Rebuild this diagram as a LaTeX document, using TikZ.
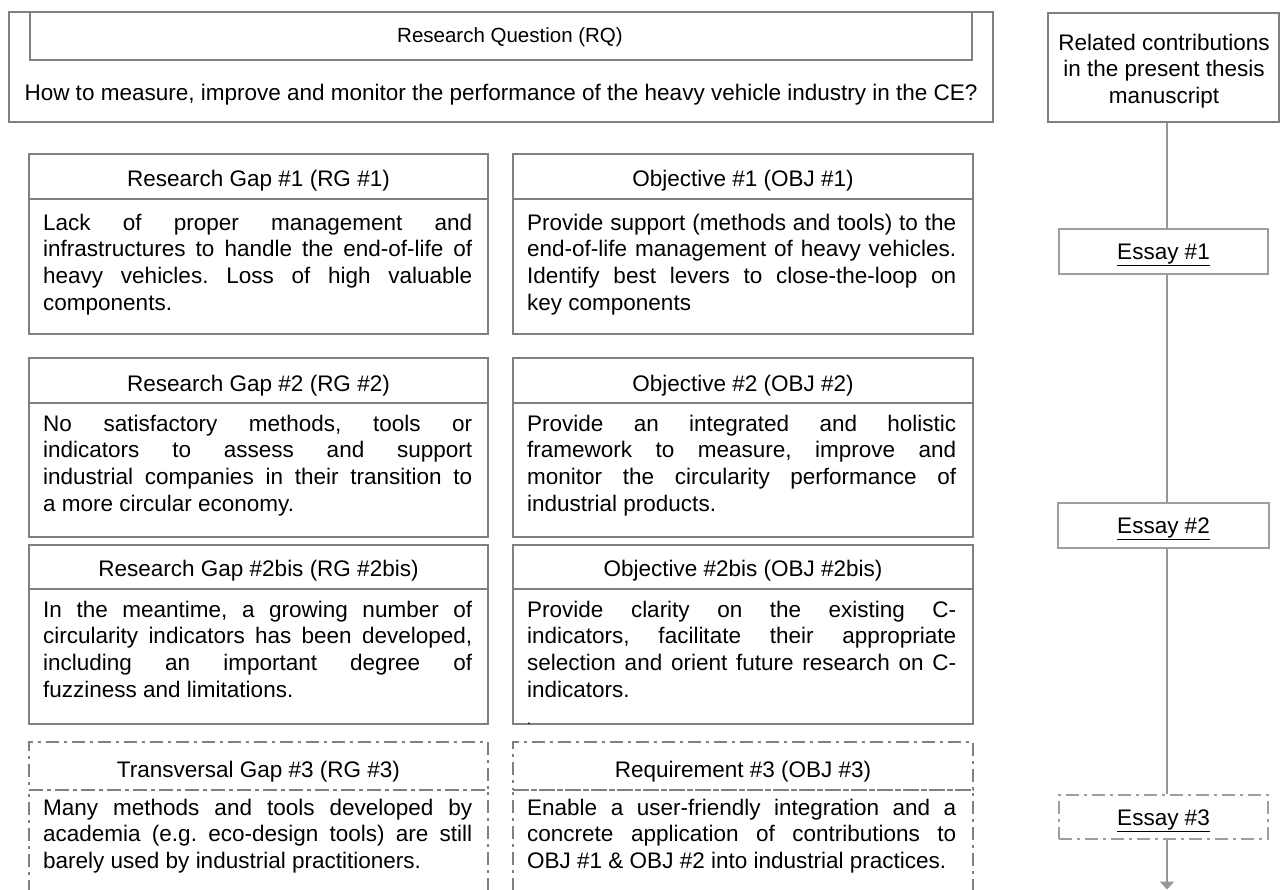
\documentclass[tikz,border=0pt]{standalone}
\usepackage{fontspec}
\setmainfont{Liberation Sans}
\usetikzlibrary{arrows.meta}
\definecolor{boxgray}{RGB}{128,128,128}
\definecolor{essgray}{RGB}{158,158,158}
\definecolor{linegray}{RGB}{150,150,150}
\frenchspacing
\begin{document}
\begin{tikzpicture}[x=1pt,y=-1pt,
  every node/.style={font=\fontsize{22.5}{26.6}\selectfont, text=black, inner sep=0pt},
  frame/.style={draw=boxgray, line width=2pt},
  dashframe/.style={draw=boxgray, line width=1.8pt, dash pattern=on 13pt off 5pt on 3pt off 5pt},
  essbox/.style={draw=essgray, line width=1.6pt, text height=21pt, text depth=5pt},
  essdash/.style={essbox, dash pattern=on 13pt off 5pt on 3pt off 5pt},
  colL/.style={minimum width=459pt},
  colR/.style={minimum width=460pt},
  ttlA/.style={text height=26pt, text depth=5pt},
  ttlB/.style={text height=24.4pt, text depth=5pt},
  ttlC/.style={text height=28pt, text depth=5pt},
  bodytext/.style={anchor=north west, text width=429pt, align=justify,
    execute at begin node={\frenchspacing\pretolerance=10000\tolerance=10000\hyphenpenalty=10000\exhyphenpenalty=10000}},
  conn/.style={draw=linegray, line width=1.8pt}
]
\useasboundingbox (0,0) rectangle (1281,890);
\clip (0,0) rectangle (1281,890);

% research question
\node[frame, minimum width=984pt, minimum height=110pt] (rqout) at (501,67) {};
\node[frame, minimum width=942pt, minimum height=48pt] (rqttl) at (501,36) {};
\node[anchor=base, font=\fontsize{20.5}{24}\selectfont] (rqttltxt) at (510,43) {Research Question (RQ)};
\node[anchor=base] (rqtxt) at (501,101) {How to measure, improve and monitor the performance of the heavy vehicle industry in the CE?};

% related contributions
\node[frame, minimum width=231pt, minimum height=109pt] (rel) at (1163.5,67.5) {};
\node[anchor=north, align=center] (reltxt) at (1164,33.7) {Related contributions\\in the present thesis\\manuscript};

% row 1
\node[frame, colL, minimum height=135pt] (rg1b) at (258.5,266.5) {};
\node[frame, colL, minimum height=45pt, ttlA] (rg1t) at (258.5,176.5) {Research Gap \#1 (RG \#1)};
\node[bodytext] (rg1x) at (43,213.7) {Lack of proper management and\linebreak infrastructures to handle the end-of-life of\linebreak heavy vehicles. Loss of high valuable\linebreak components.};
\node[frame, colR, minimum height=135pt] (ob1b) at (743,266.5) {};
\node[frame, colR, minimum height=45pt, ttlA] (ob1t) at (743,176.5) {Objective \#1 (OBJ \#1)};
\node[bodytext] (ob1x) at (527,213.7) {Provide support (methods and tools) to the\linebreak end-of-life management of heavy vehicles.\linebreak Identify best levers to close-the-loop on\linebreak key components};

% row 2
\node[frame, colL, minimum height=134pt] (rg2b) at (258.5,470) {};
\node[frame, colL, minimum height=45pt, ttlA] (rg2t) at (258.5,380.5) {Research Gap \#2 (RG \#2)};
\node[bodytext] (rg2x) at (43,414.7) {No satisfactory methods, tools or\linebreak indicators to assess and support\linebreak industrial companies in their transition to\linebreak a more circular economy.};
\node[frame, colR, minimum height=134pt] (ob2b) at (743,470) {};
\node[frame, colR, minimum height=45pt, ttlA] (ob2t) at (743,380.5) {Objective \#2 (OBJ \#2)};
\node[bodytext] (ob2x) at (527,414.7) {Provide an integrated and holistic\linebreak framework to measure, improve and\linebreak monitor the circularity performance of\linebreak industrial products.};

% row 3
\node[frame, colL, minimum height=135pt] (rg3b) at (258.5,656.5) {};
\node[frame, colL, minimum height=44pt, ttlB] (rg3t) at (258.5,567) {Research Gap \#2bis (RG \#2bis)};
\node[bodytext] (rg3x) at (43,600.7) {In the meantime, a growing number of\linebreak circularity indicators has been developed,\linebreak including an important degree of\linebreak fuzziness and limitations.};
\node[frame, colR, minimum height=135pt] (ob3b) at (743,656.5) {};
\node[frame, colR, minimum height=44pt, ttlB] (ob3t) at (743,567) {Objective \#2bis (OBJ \#2bis)};
\node[bodytext] (ob3x) at (527,600.7) {Provide clarity on the existing C-\linebreak indicators, facilitate their appropriate\linebreak selection and orient future research on C-\linebreak indicators.};
\node[font=\fontsize{14}{14}\selectfont] (stray) at (529,724) {.};

% row 4 (dashed)
\node[dashframe, colL, minimum height=110pt] (rg4b) at (258.5,845) {};
\node[dashframe, colL, minimum height=48pt, ttlC] (rg4t) at (258.5,766) {Transversal Gap \#3 (RG \#3)};
\node[bodytext] (rg4x) at (43,798.7) {Many methods and tools developed by\linebreak academia (e.g. eco-design tools) are still\linebreak barely used by industrial practitioners.};
\node[dashframe, colR, minimum height=110pt] (ob4b) at (743,845) {};
\node[dashframe, colR, minimum height=48pt, ttlC] (ob4t) at (743,766) {Requirement \#3 (OBJ \#3)};
\node[bodytext] (ob4x) at (527,798.7) {Enable a user-friendly integration and a\linebreak concrete application of contributions to\linebreak OBJ \#1 \& OBJ \#2 into industrial practices.};

% essays
\node[essbox, minimum width=209pt, minimum height=45pt] (e1) at (1163.5,251.5) {\underline{Essay \#1}};
\node[essbox, minimum width=211pt, minimum height=45pt] (e2) at (1163.5,525.5) {\underline{Essay \#2}};
\node[essdash, minimum width=209pt, minimum height=44pt] (e3) at (1163.5,817) {\underline{Essay \#3}};

\coordinate (lx) at (1167,0);
\coordinate (aend) at (1167,889.5);
\draw[conn] (rel.south -| lx) -- (e1.north -| lx);
\draw[conn] (e1.south -| lx) -- (e2.north -| lx);
\draw[conn] (e2.south -| lx) -- (e3.north -| lx);
\draw[conn, -{Triangle[width=14pt,length=8pt]}, fill=linegray] (e3.south -| lx) -- (aend);
\end{tikzpicture}
\end{document}
